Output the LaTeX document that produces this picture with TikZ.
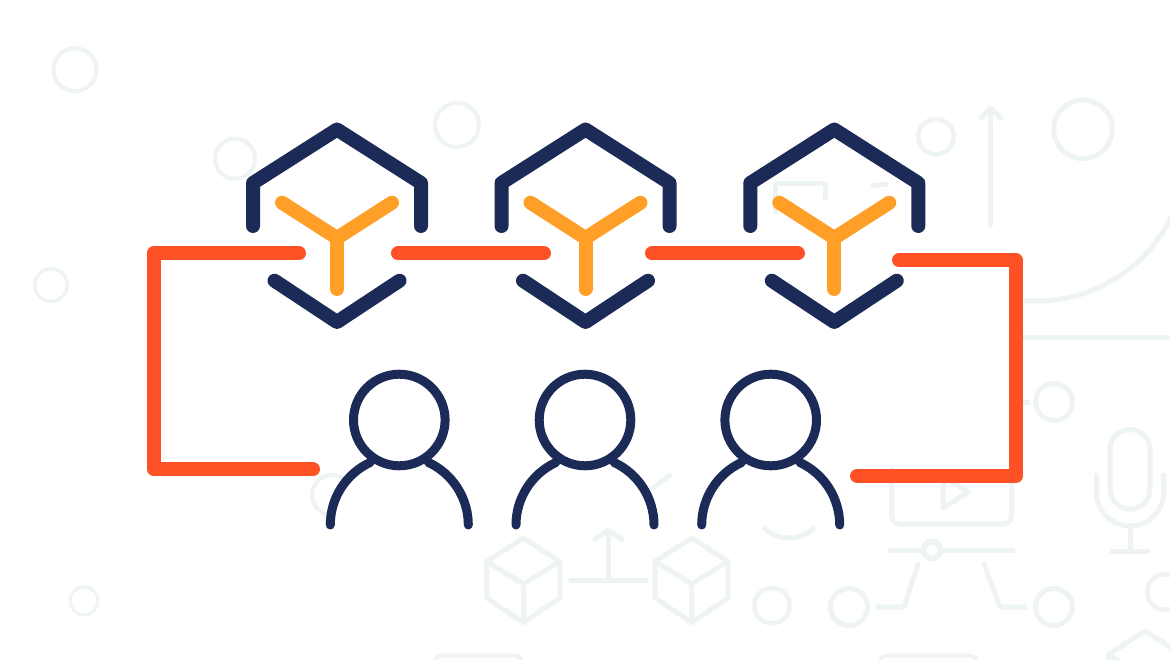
\documentclass[tikz,border=0pt]{standalone}
\definecolor{navy}{HTML}{1B2A56}
\definecolor{amber}{HTML}{FF9F27}
\definecolor{redorange}{HTML}{FF5126}
\definecolor{faint}{HTML}{EEF3F4}
\tikzset{
  bgline/.style={draw=faint,line width=5pt,line cap=round,line join=round},
  hexline/.style={draw=navy,line width=14pt,line cap=round,line join=round},
  yline/.style={draw=amber,line width=14pt,line cap=round,line join=round},
  wire/.style={draw=redorange,line width=14pt,line cap=round,line join=round},
  personline/.style={draw=navy,line width=9pt,line cap=round,line join=round,fill=white}
}
\newcommand{\cubeicon}[2]{%
  \begin{scope}[shift={(#1,#2)}]
    \draw[bgline] (0,-46) -- (36.5,-22.5) -- (36.5,14) -- (0,38.5) -- (-36.5,14) -- (-36.5,-22.5) -- cycle;
    \draw[bgline] (-36.5,-22.5) -- (0,0) -- (36.5,-22.5);
    \draw[bgline] (0,0) -- (0,38.5);
  \end{scope}}
\begin{document}
\begin{tikzpicture}[x=1pt,y=1pt,yscale=-1]
\useasboundingbox (0,0) rectangle (1170,660);
\fill[white] (0,0) rectangle (1170,660);
\begin{scope}
\clip (0,0) rectangle (1170,660);
% faint background circles
\draw[bgline,line width=4pt] (75,69.7) circle[radius=21.5];
\draw[bgline,line width=4pt] (235,158.7) circle[radius=20];
\draw[bgline,line width=3.5pt] (51,285) circle[radius=16.3];
\draw[bgline,line width=3pt] (84,601) circle[radius=14];
\draw[bgline,line width=4pt] (457,125) circle[radius=22];
\draw[bgline,line width=4pt] (332,495) circle[radius=20];
\draw[bgline,line width=4.5pt] (936,136.7) circle[radius=17.7];
\draw[bgline] (1083,129.3) circle[radius=29.3];
\draw[bgline] (1054,402) circle[radius=18.5];
\draw[bgline] (1054,607) circle[radius=18.5];
\draw[bgline] (849,607) circle[radius=18.5];
\draw[bgline,line width=4.5pt] (772,605.7) circle[radius=17.7];
\draw[bgline,line width=4.5pt] (1165,592) circle[radius=17.7];
% arrow, arc and rules at the right
\draw[bgline] (990.7,225) -- (990.7,109);
\draw[bgline] (981,118) -- (990.7,108) -- (1000.5,118);
\draw[bgline,line cap=butt] (1037,152) ++(95:149) arc[start angle=95,end angle=22,radius=149];
\draw[bgline,line cap=butt] (1020,337.3) -- (1170,337.3);
\draw[bgline,line cap=butt] (1020,402) -- (1030,402);
% bracket behind third hexagon
\draw[bgline,line cap=butt] (775,214) -- (775,184) -- (825,184) -- (825,200);
\draw[bgline,line cap=butt] (871,186) -- (888,184);
% microphone
\draw[bgline] (1110,449.5) arc[start angle=180,end angle=360,radius=20] -- (1150,489)
  arc[start angle=0,end angle=180,radius=20] -- cycle;
\draw[bgline] (1096.5,475) -- (1096.5,492.5) arc[start angle=180,end angle=0,radius=33.5] -- (1163.5,475);
\draw[bgline] (1130,526) -- (1130,551.7);
\draw[bgline] (1112,551.7) -- (1148,551.7);
% video box and timeline
\draw[bgline,rounded corners=8pt] (891.7,470) -- (891.7,524) -- (1011.7,524) -- (1011.7,470);
\draw[bgline] (943,476) -- (968,492) -- (943,508) -- cycle;
\draw[bgline] (890,550) -- (1013,550);
\draw[bgline,line width=6pt,fill=white] (932,550) circle[radius=8.5];
\draw[bgline] (918,564) -- (904,607) -- (878,607);
\draw[bgline] (984,564) -- (1000,607) -- (1025,607);
% cubes
\cubeicon{523.3}{584}
\cubeicon{691.7}{584}
\cubeicon{1145}{677}
\draw[bgline] (570.7,580.7) -- (645.7,580.7);
\draw[bgline] (608.3,580.7) -- (608.3,531);
\draw[bgline] (595,539.3) -- (608.3,530) -- (622,539.3);
% small fragments
\draw[bgline] (653,488) -- (670,475);
\draw[bgline,line cap=butt] (789,502) ++(136:36) arc[start angle=136,end angle=44,radius=36];
\draw[bgline,line width=4pt,rounded corners=7pt] (435,680) -- (435,655.5) -- (522,655.5) -- (522,680);
\draw[bgline,line width=4pt,rounded corners=7pt] (880,680) -- (880,655.5) -- (977,655.5) -- (977,680);
\end{scope}
% hexagons with Y marks
\foreach \cx in {337,585.5,834.3}{
  \begin{scope}[shift={(\cx,0)}]
    \draw[hexline] (-84,226) -- (-84,183) -- (0,129.5) -- (84,183) -- (84,226);
    \draw[hexline] (-62.5,280.7) -- (0,322) -- (62.5,280.7);
    \draw[yline] (-55,202.7) -- (0,238) -- (55,202.7);
    \draw[yline] (0,238) -- (0,289);
  \end{scope}
}
% people
\foreach \px in {399.3,585,770.7}{
  \begin{scope}[shift={(\px,0)}]
    \path[fill=white] (-69,525) arc[start angle=180,end angle=360,radius=69] -- cycle;
    \draw[personline,fill=none] (-69,525) arc[start angle=180,end angle=245,radius=69];
    \draw[personline,fill=none] (69,525) arc[start angle=0,end angle=-65,radius=69];
    \draw[personline] (0,420) circle[radius=45.8];
  \end{scope}
}
% red connectors
\draw[wire] (299,253.3) -- (153.7,253.3) -- (153.7,469.3) -- (313,469.3);
\draw[wire] (398,253.3) -- (544,253.3);
\draw[wire] (652,253.3) -- (798,253.3);
\draw[wire] (899,260.3) -- (1016,260.3) -- (1016,476) -- (857,476);
\end{tikzpicture}
\end{document}
